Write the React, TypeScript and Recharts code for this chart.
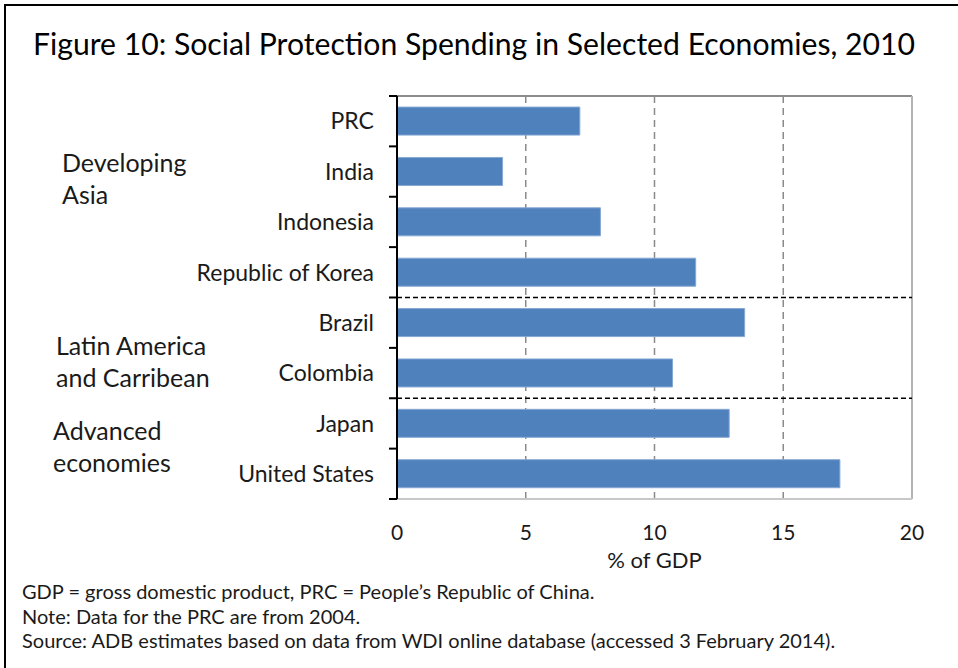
import React from "react";
import { BarChart, Bar, XAxis, YAxis, CartesianGrid, ReferenceLine } from "recharts";

const economies = ["PRC", "India", "Indonesia", "Republic of Korea", "Brazil", "Colombia", "Japan", "United States"];
const spending = [7.1, 4.1, 7.9, 11.6, 13.5, 10.7, 12.9, 17.2];
const xTicks = [0, 5, 10, 15, 20];
const groupStarts = ["Brazil", "Japan"];
const groupNames = [["Developing", "Asia"], ["Latin America", "and Carribean"], ["Advanced", "economies"]];
const notes = [
  "GDP = gross domestic product, PRC = People\u2019s Republic of China.",
  "Note: Data for the PRC are from 2004.",
  "Source: ADB estimates based on data from WDI online database (accessed 3 February 2014).",
];

const data = economies.map((name, i) => ({ name, value: spending[i] }));

const FONT = "Lato, 'Open Sans', sans-serif";
const TEXT = "#1a1a1a";

// label at the band centre, tick mark at the band edges (Excel style)
function CategoryTick(props: any) {
  const { x, y, payload, index } = props;
  const half = payload?.offset ?? 0;
  const ax = x + 23;
  return (
    <g>
      <text x={x} y={y} dy="0.36em" textAnchor="end" fontSize={23} fontFamily={FONT} fill={TEXT}>
        {payload.value}
      </text>
      <line x1={ax - 8} x2={ax} y1={y - half} y2={y - half} stroke="#000" strokeWidth={2} />
      {index === economies.length - 1 && (
        <line x1={ax - 8} x2={ax} y1={y + half} y2={y + half} stroke="#000" strokeWidth={2} />
      )}
    </g>
  );
}

const groupLabelPos = [
  { x: 62, y: 172 },
  { x: 56, y: 355 },
  { x: 53, y: 440 },
];

export default function App() {
  return (
    <div style={{ position: "absolute", left: 0, top: 0, width: 958, height: 668, overflow: "hidden", background: "#fff" }}>
      <div style={{ position: "absolute", left: 4, top: 4, width: 1000, height: 700, border: "2px solid #000" }} />
      <div style={{ position: "absolute", left: 0, top: 0 }}>
        <BarChart
          width={958}
          height={668}
          data={data}
          layout="vertical"
          margin={{ top: 96, right: 46, bottom: 139, left: 0 }}
          barCategoryGap="22%"
        >
          <CartesianGrid horizontal={false} stroke="#8a8a8a" strokeWidth={1.5} strokeDasharray="7 5" />
          <XAxis
            type="number"
            domain={[0, 20]}
            ticks={xTicks}
            height={30}
            tickLine={false}
            tickSize={0}
            tickMargin={26}
            axisLine={{ stroke: "#c8c8c8", strokeWidth: 2 }}
            tick={{ fontSize: 21, fontFamily: FONT, fill: TEXT }}
            label={{ value: "% of GDP", position: "bottom", offset: 23, fontSize: 22, fontFamily: FONT, fill: TEXT }}
          />
          <YAxis
            type="category"
            dataKey="name"
            width={397}
            tickLine={false}
            tickSize={8}
            tickMargin={15}
            axisLine={{ stroke: "#000", strokeWidth: 2 }}
            tick={<CategoryTick />}
            interval={0}
          />
          <Bar dataKey="value" fill="#4F81BD" stroke="#86A8D3" strokeWidth={1} isAnimationActive={false} />
          <ReferenceLine y={economies[0]} position="start" stroke="#8c8c8c" strokeWidth={2} />
          <ReferenceLine x={20} stroke="#b4b4b4" strokeWidth={2} />
          {groupStarts.map((g) => (
            <ReferenceLine key={g} y={g} position="start" stroke="#000" strokeWidth={1.5} strokeDasharray="5 3" />
          ))}
        </BarChart>
      </div>
      <svg width={958} height={668} style={{ position: "absolute", left: 0, top: 0, pointerEvents: "none" }}>
        <text x={33} y={55} fontSize={30} fontFamily={FONT} fill="#000" textLength={882} lengthAdjust="spacingAndGlyphs">
          Figure 10: Social Protection Spending in Selected Economies, 2010
        </text>
        {groupNames.map((lines, i) => (
          <text key={i} x={groupLabelPos[i].x} y={groupLabelPos[i].y} fontSize={25} fontFamily={FONT} fill={TEXT}>
            {lines.map((l, j) => (
              <tspan key={j} x={groupLabelPos[i].x} dy={j === 0 ? 0 : 32}>{l}</tspan>
            ))}
          </text>
        ))}
        {notes.map((n, i) => (
          <text key={i} x={22} y={599 + i * 24.5} fontSize={20} fontFamily={FONT} fill={TEXT}>
            {n}
          </text>
        ))}
      </svg>
    </div>
  );
}
